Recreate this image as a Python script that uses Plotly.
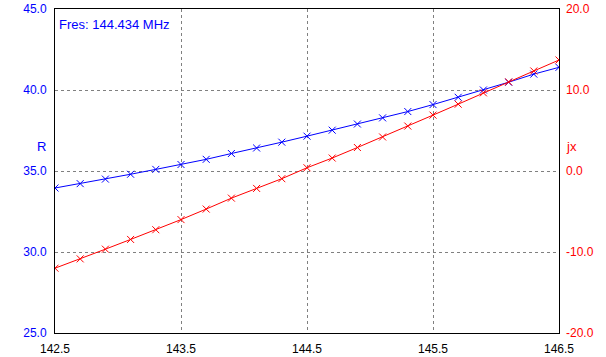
import plotly.graph_objects as go

freq = [142.5, 142.7, 142.9, 143.1, 143.3, 143.5, 143.7, 143.9, 144.1, 144.3, 144.5,
        144.7, 144.9, 145.1, 145.3, 145.5, 145.7, 145.9, 146.1, 146.3, 146.5]
r_vals = [33.95, 34.22, 34.5, 34.8, 35.1, 35.4, 35.72, 36.08, 36.42, 36.78, 37.15,
          37.52, 37.9, 38.28, 38.67, 39.1, 39.55, 40.0, 40.48, 40.98, 41.4]
jx_vals = [-12.0, -10.85, -9.65, -8.45, -7.25, -6.0, -4.7, -3.35, -2.15, -0.95, 0.4,
           1.6, 2.9, 4.2, 5.55, 6.9, 8.25, 9.65, 11.0, 12.35, 13.7]

x_ticks = [142.5, 143.5, 144.5, 145.5, 146.5]
x_ticklabels = ["142.5", "143.5", "144.5", "145.5", "146.5"]
r_ticks = [25, 30, 35, 40, 45]
r_ticklabels = ["25.0", "30.0", "35.0", "40.0", "45.0"]
jx_ticks = [-20, -10, 0, 10, 20]
jx_ticklabels = ["-20.0", "-10.0", "0.0", "10.0", "20.0"]
fres_text = "Fres: 144.434 MHz"

font = "Liberation Sans, Arial, sans-serif"

fig = go.Figure()
fig.add_trace(go.Scatter(
    x=freq, y=r_vals, mode="lines+markers", yaxis="y",
    line=dict(color="#0000ff", width=1),
    marker=dict(symbol="x-thin", size=7, line=dict(color="#0000ff", width=1), color="#0000ff"),
    showlegend=False))
fig.add_trace(go.Scatter(
    x=freq, y=jx_vals, mode="lines+markers", yaxis="y2",
    line=dict(color="#ff0000", width=1),
    marker=dict(symbol="x-thin", size=7, line=dict(color="#ff0000", width=1), color="#ff0000"),
    showlegend=False))

fig.update_layout(
    width=606, height=357,
    margin=dict(l=55, r=47, t=9, b=24, autoexpand=False),
    paper_bgcolor="white", plot_bgcolor="white",
    font=dict(family=font, size=12),
    xaxis=dict(range=[142.5, 146.5], tickvals=x_ticks, ticktext=x_ticklabels,
               showgrid=True, gridcolor="#808080", griddash="3px,3px", gridwidth=1,
               showline=True, linecolor="black", linewidth=1, mirror=True,
               ticks="", tickfont=dict(color="black", size=12), zeroline=False,
               automargin=False, ticklabelstandoff=5),
    yaxis=dict(range=[25, 45], tickvals=r_ticks, ticktext=r_ticklabels,
               showgrid=True, gridcolor="#808080", griddash="3px,3px", gridwidth=1,
               showline=True, linecolor="black", linewidth=1, mirror=True,
               ticks="", tickfont=dict(color="#0000ff", size=12), zeroline=False,
               automargin=False, ticklabelstandoff=5),
    yaxis2=dict(range=[-20, 20], tickvals=jx_ticks, ticktext=jx_ticklabels,
                overlaying="y", side="right", showgrid=False, zeroline=False,
                ticks="", tickfont=dict(color="#ff0000", size=12),
                automargin=False, ticklabelstandoff=6),
)

fig.add_annotation(text=fres_text, xref="paper", yref="paper", x=0.004, y=0.951,
                   xanchor="left", yanchor="middle", showarrow=False,
                   font=dict(color="#0000ff", size=13, family=font))
fig.add_annotation(text="R", xref="paper", yref="paper", x=-0.014, y=0.575,
                   xanchor="right", yanchor="middle", showarrow=False,
                   font=dict(color="#0000ff", size=13, family=font))
fig.add_annotation(text="jx", xref="paper", yref="paper", x=1.01, y=0.575,
                   xanchor="left", yanchor="middle", showarrow=False,
                   font=dict(color="#ff0000", size=13, family=font))

fig.write_html("out.html", config={"displayModeBar": False},
               post_script="document.body.style.margin='0';document.body.style.overflow='hidden';")
